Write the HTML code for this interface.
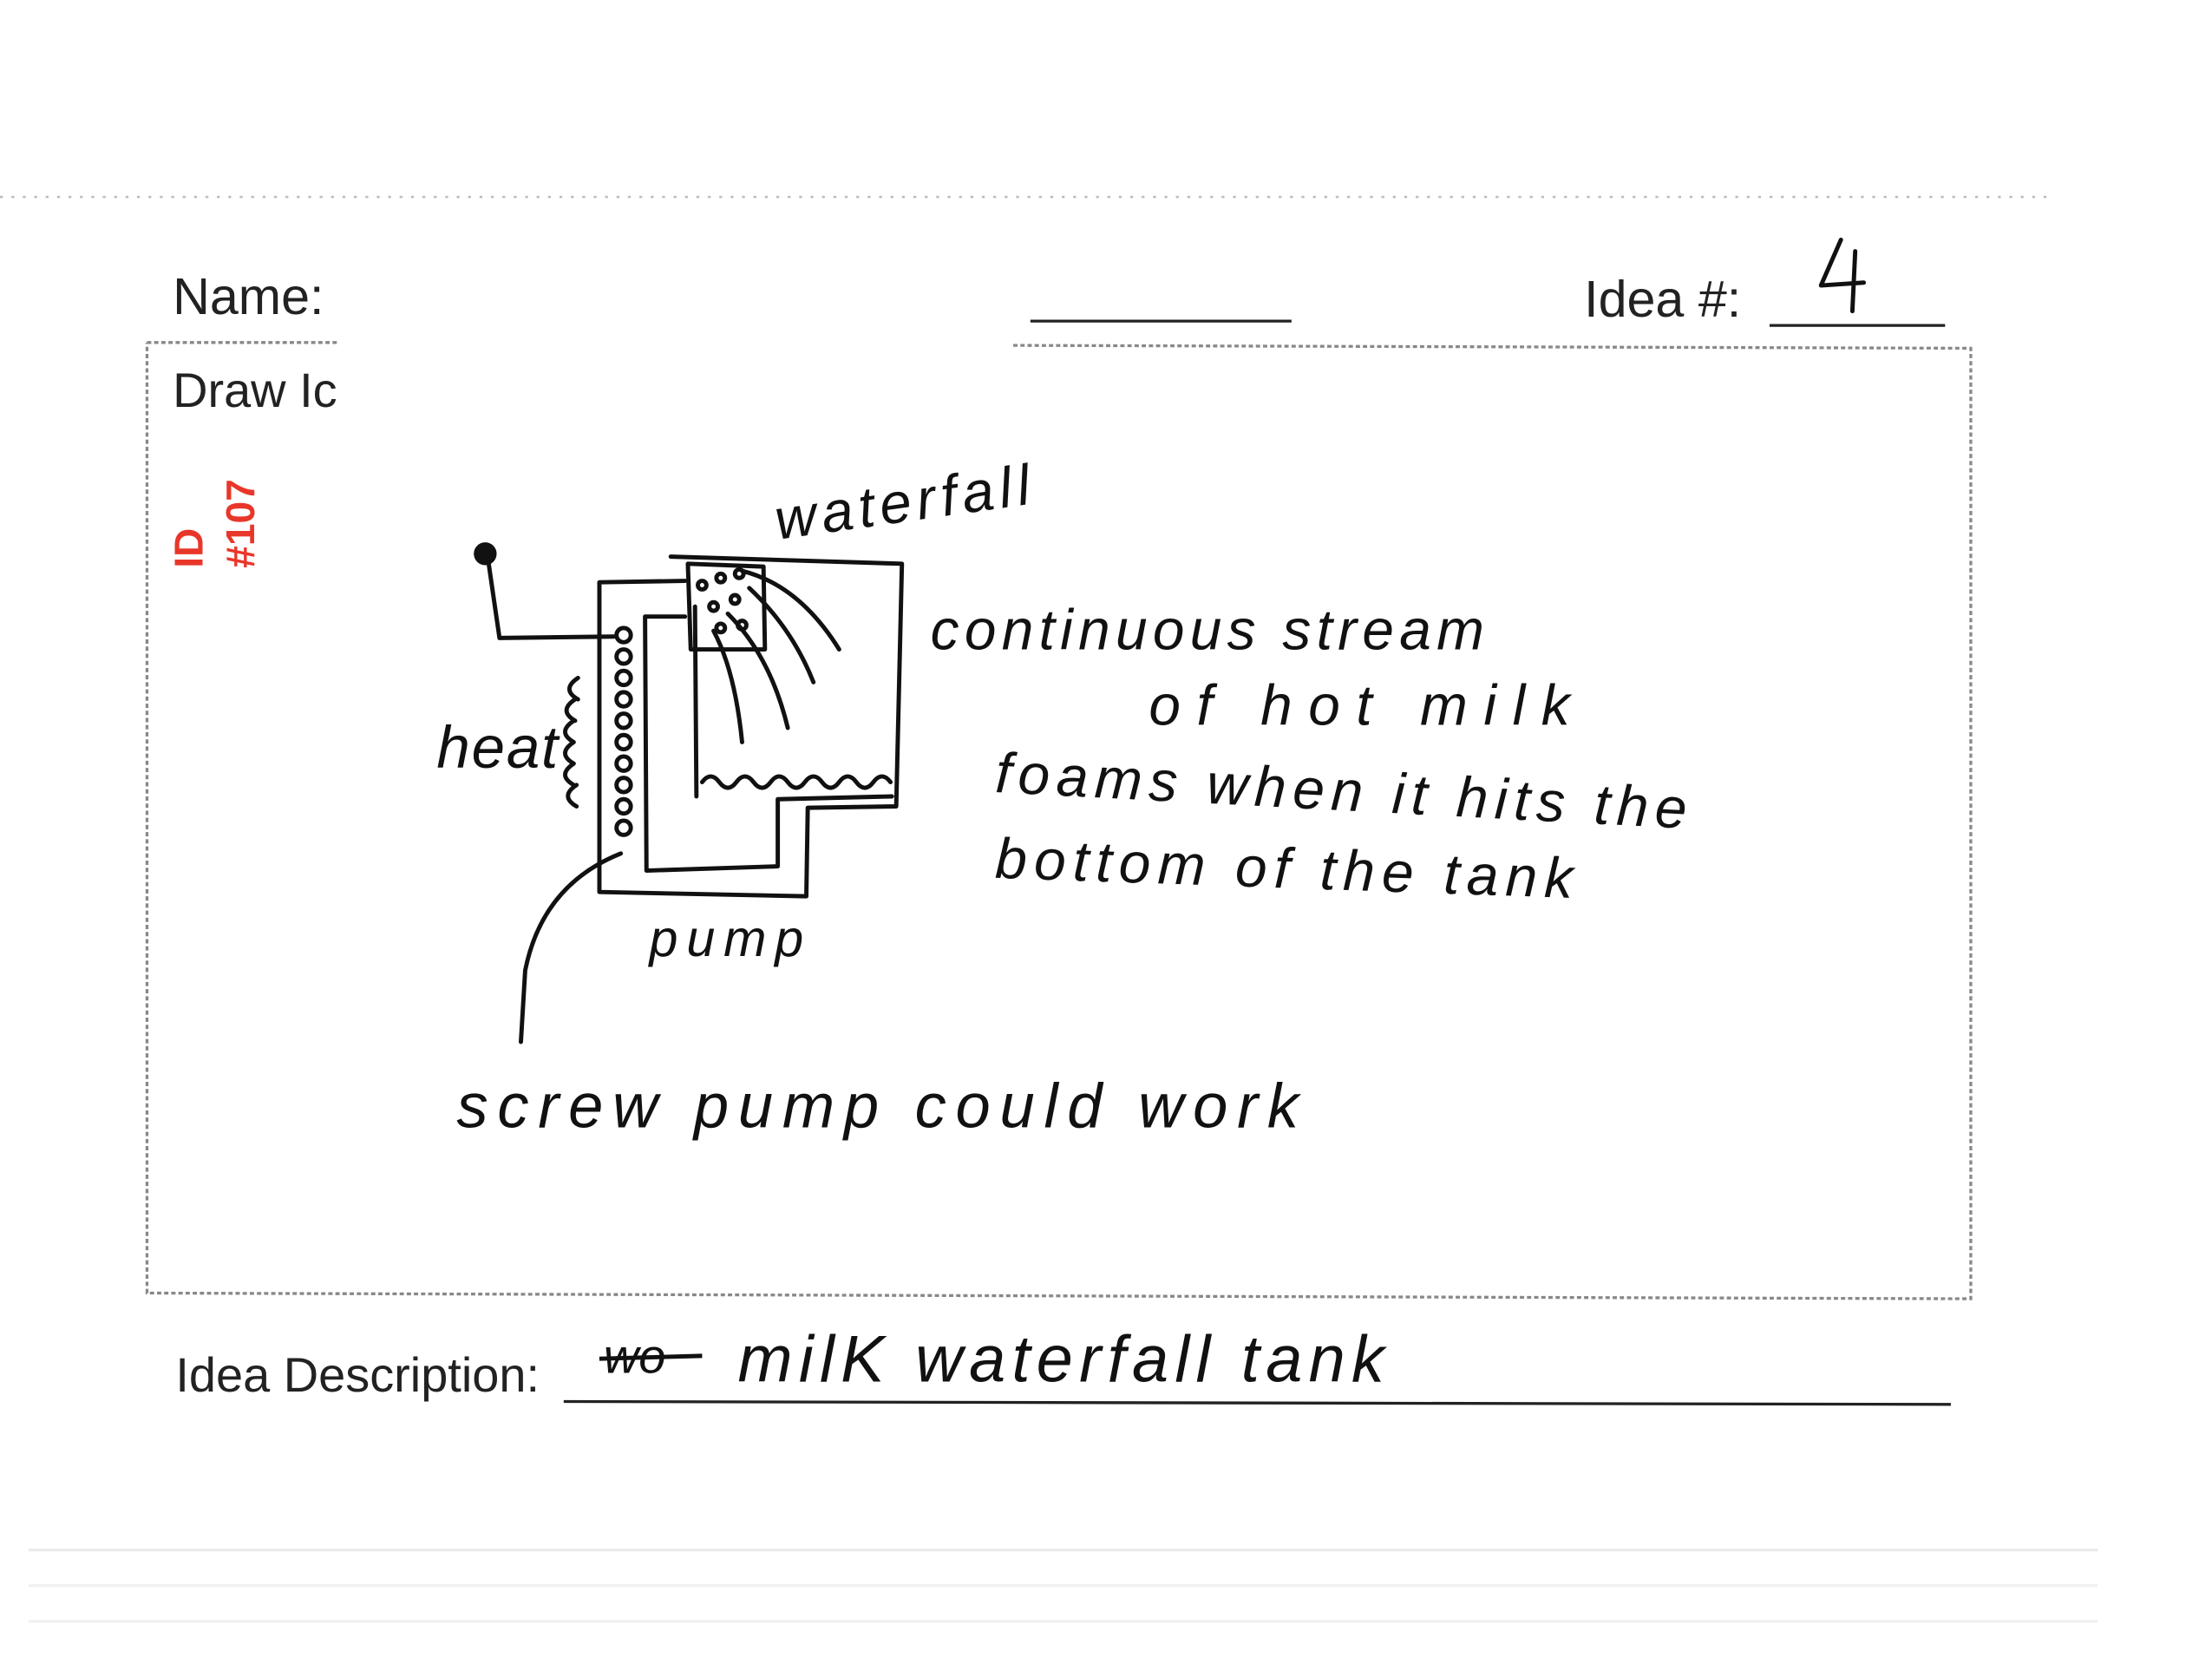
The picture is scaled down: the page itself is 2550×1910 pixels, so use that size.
<!DOCTYPE html>
<html><head><meta charset="utf-8"><style>
html,body{margin:0;padding:0;background:#fff;}
svg{display:block;}
.pr{font-family:"Liberation Sans",sans-serif;fill:#222;}
.hw{font-family:"Liberation Sans",sans-serif;font-style:italic;fill:#111;}
.ink{stroke:#111;stroke-width:3;fill:none;stroke-linecap:round;stroke-linejoin:round;}
</style></head><body>
<svg width="2550" height="1910" viewBox="0 0 1550 1161" xmlns="http://www.w3.org/2000/svg">
<rect width="1550" height="1161" fill="#fff"/>
<line x1="0" y1="138" x2="1435" y2="138" stroke="#bbb" stroke-width="1.5" stroke-dasharray="2 6"/>
<text class="pr" x="121" y="220" font-size="36">Name:</text>
<line x1="722" y1="225" x2="905" y2="225" stroke="#222" stroke-width="2"/>
<text class="pr" x="1110" y="222" font-size="36">Idea #:</text>
<path class="ink" d="M1290 168 L1276 200 L1306 198 M1300 176 L1298 218" stroke-width="2"/>
<line x1="1240" y1="228" x2="1363" y2="228" stroke="#222" stroke-width="2"/>
<path d="M103 240 L238 240 M710 242 L1381 244 L1381 910 L103 906 L103 240" stroke="#888" stroke-width="2" fill="none" stroke-dasharray="3 2"/>
<text class="pr" x="121" y="285" font-size="34">Draw Ic</text>
<g transform="translate(142,398) rotate(-90)"><text x="0" y="0" font-family="Liberation Sans,sans-serif" font-weight="bold" font-size="28" fill="#e8372a">ID</text><text x="0" y="36" font-family="Liberation Sans,sans-serif" font-weight="bold" font-size="28" fill="#e8372a">#107</text></g>
<circle cx="340" cy="388" r="8" fill="#111"/>
<path class="ink" d="M342 392 L350 447 L430 446"/>
<path class="ink" d="M420 408 L480 407 M420 408 L420 625 L565 628 L566 566 L628 565 L632 395 L470 390"/>
<path class="ink" d="M452 432 L480 432 M452 432 L453 610 L545 607 L545 560 L625 558 M487 425 L488 558"/>
<path class="ink" d="M492 548 q6 -8 12 0 q6 8 12 0 q6 -8 12 0 q6 8 12 0 q6 -8 12 0 q6 8 12 0 q6 -8 12 0 q6 8 12 0 q6 -8 12 0 q6 8 12 0 q6 -8 12 0" stroke-width="2"/>
<path class="ink" d="M482 395 L535 397 L536 455 L484 455 Z" stroke-width="2"/>
<g class="ink" stroke-width="2">
<circle cx="437" cy="445" r="5"/><circle cx="437" cy="460" r="5"/><circle cx="437" cy="475" r="5"/><circle cx="437" cy="490" r="5"/><circle cx="437" cy="505" r="5"/><circle cx="437" cy="520" r="5"/><circle cx="437" cy="535" r="5"/><circle cx="437" cy="550" r="5"/><circle cx="437" cy="565" r="5"/><circle cx="437" cy="580" r="5"/>
<circle cx="492" cy="410" r="3"/><circle cx="505" cy="405" r="3"/><circle cx="518" cy="402" r="3"/><circle cx="500" cy="425" r="3"/><circle cx="515" cy="420" r="3"/><circle cx="505" cy="440" r="3"/><circle cx="520" cy="438" r="3"/>
<path d="M520 400 Q560 410 588 455 M525 412 Q555 440 570 478 M510 430 Q540 460 552 510 M500 442 Q515 470 520 520"/>
<path d="M405 475 q-12 8 0 15 M403 490 q-12 8 0 15 M402 505 q-12 8 0 15 M402 520 q-12 8 0 15 M402 535 q-12 8 0 15 M404 550 q-12 8 0 15"/>
</g>
<path class="ink" d="M435 598 Q380 620 368 680 L365 730" stroke-width="2.5"/>
<text class="hw" x="545" y="378" font-size="40" textLength="180" transform="rotate(-8 545 378)">waterfall</text>
<text class="hw" x="306" y="538" font-size="42" textLength="85">heat</text>
<text class="hw" x="652" y="455" font-size="40" textLength="388">continuous  stream</text>
<text class="hw" x="805" y="508" font-size="40" textLength="295">of  hot  milk</text>
<text class="hw" x="697" y="555" font-size="40" textLength="485" transform="rotate(3 697 555)">foams when it hits the</text>
<text class="hw" x="697" y="615" font-size="40" textLength="405" transform="rotate(2 697 615)">bottom of the tank</text>
<text class="hw" x="455" y="670" font-size="36" textLength="108">pump</text>
<text class="hw" x="320" y="790" font-size="44" textLength="590">screw  pump  could  work</text>
<text class="pr" x="123" y="975" font-size="34">Idea Description:</text>
<line x1="395" y1="982" x2="1367" y2="984" stroke="#222" stroke-width="2"/>
<text class="hw" x="423" y="962" font-size="34">wo</text>
<line x1="420" y1="952" x2="492" y2="950" stroke="#111" stroke-width="3"/>
<text class="hw" x="517" y="968" font-size="46" textLength="453">milK  waterfall  tank</text>
<g fill="#ccc">
<rect x="20" y="1085" width="1450" height="2" opacity="0.4"/>
<rect x="20" y="1110" width="1450" height="2" opacity="0.3"/>
<rect x="20" y="1135" width="1450" height="2" opacity="0.3"/>
</g>
</svg>
</body></html>
